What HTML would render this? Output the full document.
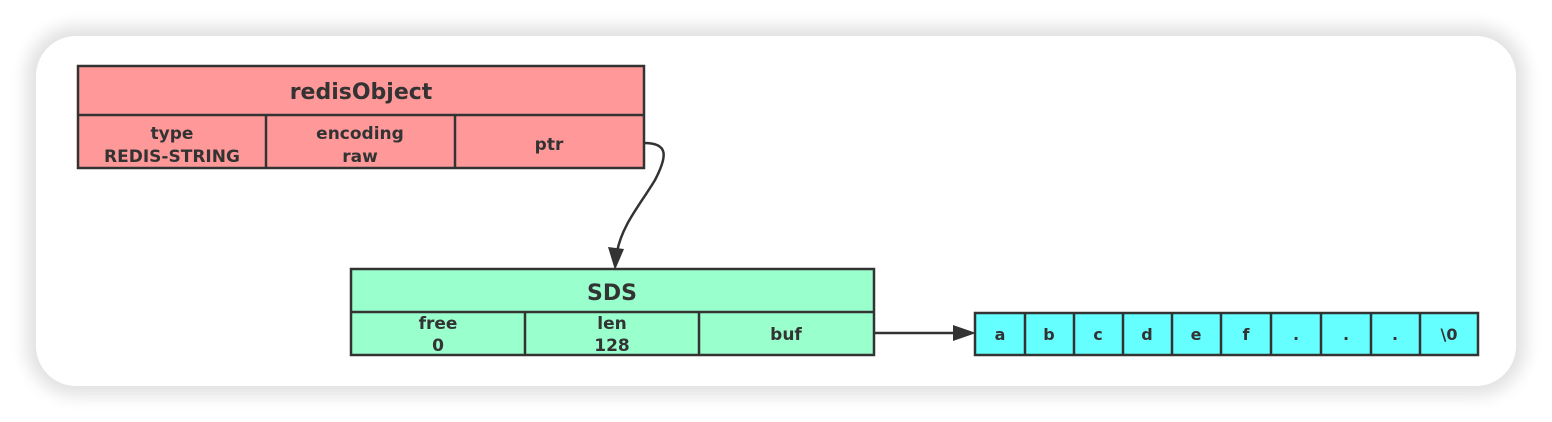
<!DOCTYPE html>
<html><head><meta charset="utf-8"><style>
html,body{margin:0;padding:0;background:#fff;}
body{width:1552px;height:422px;position:relative;overflow:hidden;}
.card{position:absolute;left:36px;top:36px;width:1480px;height:350px;background:#fff;border-radius:40px;box-shadow:0 0 16px 10px #e2e2e2;}
svg{position:absolute;left:0;top:0;}
text{font-family:"DejaVu Sans","Liberation Sans",sans-serif;font-weight:bold;fill:#333;text-anchor:middle;}
</style></head><body>
<div class="card"></div>
<svg width="1552" height="422" viewBox="0 0 1552 422">
<g stroke="#333" stroke-width="2.5">
 <rect x="78" y="66" width="566" height="102" fill="#ff9999"/>
 <line x1="78" y1="115" x2="644" y2="115"/>
 <line x1="266" y1="115" x2="266" y2="168"/>
 <line x1="455" y1="115" x2="455" y2="168"/>
 <rect x="351" y="269" width="523" height="86" fill="#99ffcc"/>
 <line x1="351" y1="312" x2="874" y2="312"/>
 <line x1="525" y1="312" x2="525" y2="355"/>
 <line x1="699" y1="312" x2="699" y2="355"/>
 <rect x="975" y="313" width="503" height="42" fill="#66ffff"/>
 <line x1="1025" y1="313" x2="1025" y2="355"/>
 <line x1="1074" y1="313" x2="1074" y2="355"/>
 <line x1="1123" y1="313" x2="1123" y2="355"/>
 <line x1="1172" y1="313" x2="1172" y2="355"/>
 <line x1="1221" y1="313" x2="1221" y2="355"/>
 <line x1="1271" y1="313" x2="1271" y2="355"/>
 <line x1="1321" y1="313" x2="1321" y2="355"/>
 <line x1="1371" y1="313" x2="1371" y2="355"/>
 <line x1="1420" y1="313" x2="1420" y2="355"/>
 <path d="M644,143 C668,143 668,155 655,180 C640,205 622,225 617,252" fill="none"/>
 <line x1="874" y1="333" x2="958" y2="333"/>
</g>
<polygon points="615,270 608,247 624,249" fill="#333"/>
<polygon points="976,333 953,325 953,341" fill="#333"/>
<text x="361" y="99" font-size="22">redisObject</text>
<text x="172" y="139" font-size="17">type</text>
<text x="172" y="162" font-size="17">REDIS-STRING</text>
<text x="360" y="139" font-size="17">encoding</text>
<text x="360" y="162" font-size="17">raw</text>
<text x="549" y="150" font-size="17">ptr</text>
<text x="612" y="300" font-size="22">SDS</text>
<text x="438" y="329" font-size="17">free</text>
<text x="438" y="351" font-size="17">0</text>
<text x="612" y="329" font-size="17">len</text>
<text x="612" y="351" font-size="17">128</text>
<text x="786" y="340" font-size="17">buf</text>
<g font-size="16">
<text x="1000" y="340">a</text>
<text x="1049" y="340">b</text>
<text x="1098" y="340">c</text>
<text x="1147" y="340">d</text>
<text x="1196" y="340">e</text>
<text x="1246" y="340">f</text>
<text x="1296" y="340">.</text>
<text x="1346" y="340">.</text>
<text x="1395" y="340">.</text>
<text x="1449" y="340">\0</text>
</g>
</svg>
</body></html>
